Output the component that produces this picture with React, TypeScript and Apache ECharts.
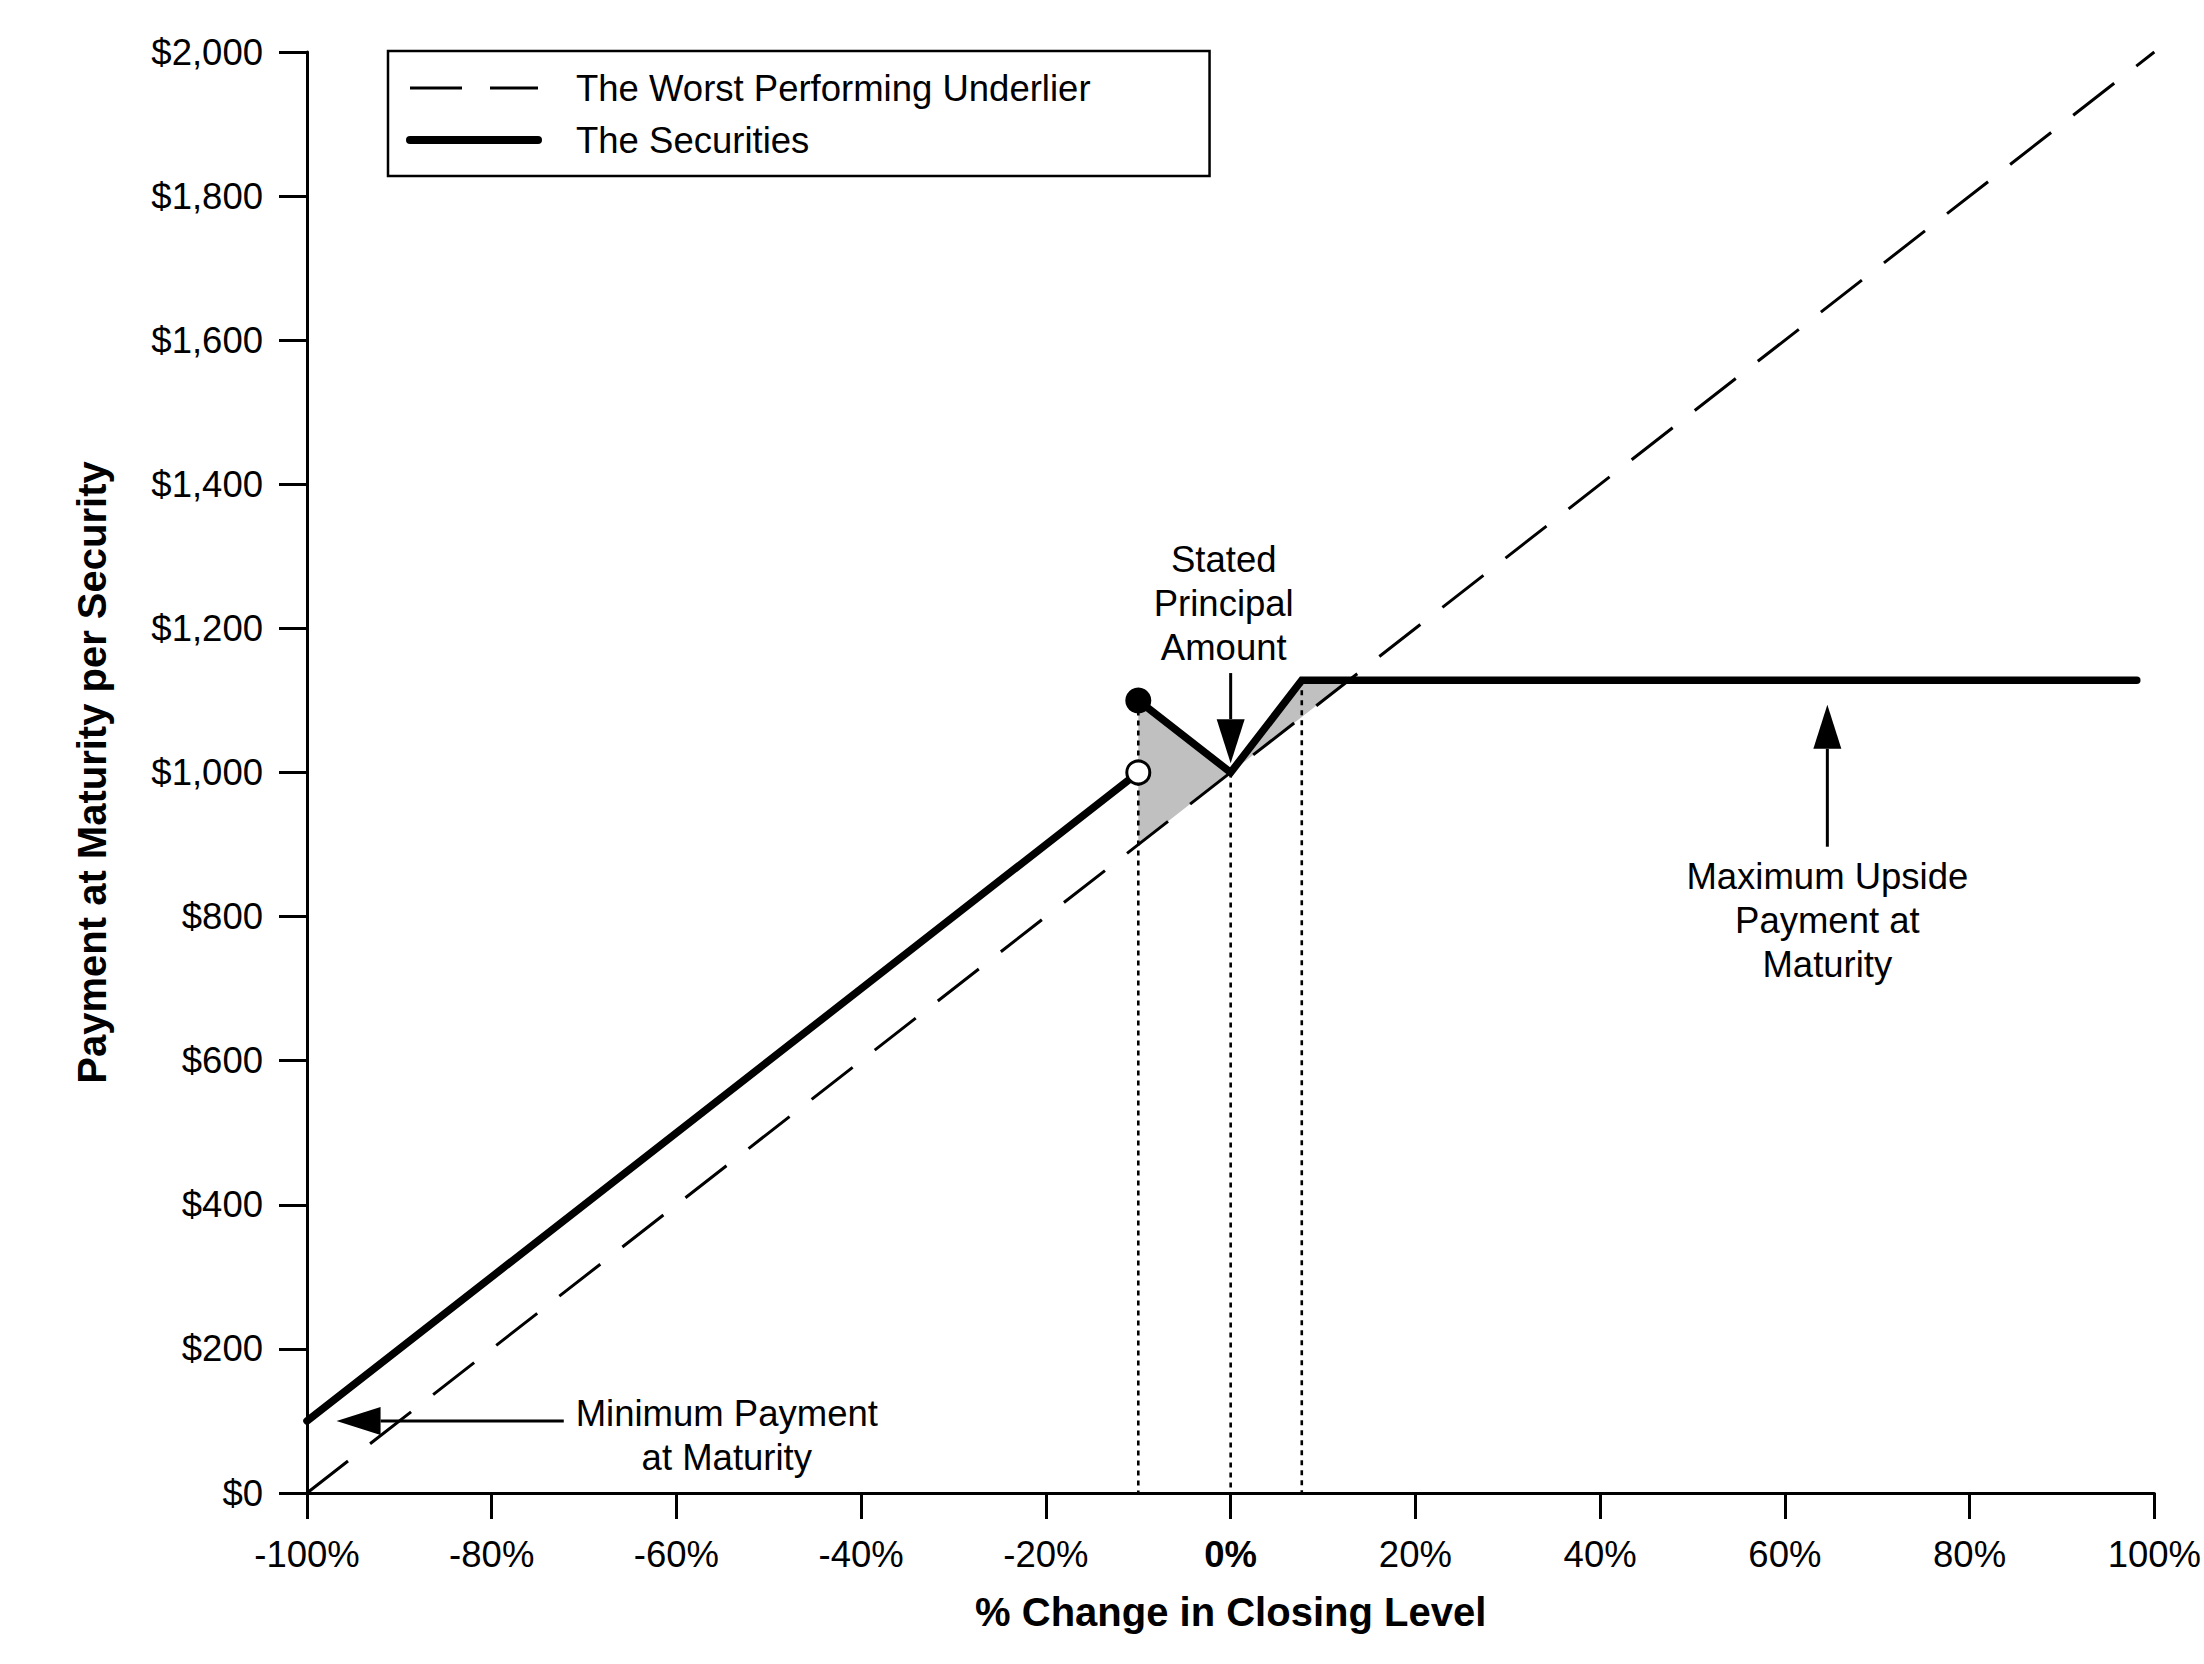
import React, { useEffect, useRef } from "react";
import * as echarts from "echarts";

const FONT = "'Liberation Sans', Arial, Helvetica, sans-serif";

// Data (x = % change in closing level, y = payment at maturity in $)
const underlierLine = [
  [-100, 0],
  [100, 2000],
];
const securitiesLow = [
  [-100, 100],
  [-10, 1000],
];
const securitiesHigh = [
  [-10, 1100],
  [0, 1000],
  [7.7, 1128],
  [98.1, 1128],
];
const shadeVertices = [
  [-10, 900],
  [-10, 1100],
  [0, 1000],
  [7.7, 1128],
  [12.8, 1128],
  [0, 1000],
];
const dropLines = [
  [-10, 1100],
  [0, 1000],
  [7.7, 1128],
];
const filledPoint = [[-10, 1100]];
const openPoint = [[-10, 1000]];
// arrows: [x from, y from, x to (tip), y to (tip)]
const arrows = [
  [0, 1138, 0, 1013],
  [-72.2, 100, -96.8, 100],
  [64.6, 897, 64.6, 1094],
];
const notePositions = [
  [-0.75, 1235],
  [-54.55, 80],
  [64.6, 795],
];
const noteTexts = [
  "Stated\nPrincipal\nAmount",
  "Minimum Payment\nat Maturity",
  "Maximum Upside\nPayment at\nMaturity",
];
const legendNames = ["The Worst Performing Underlier", "The Securities"];

export default function App() {
  const ref = useRef<HTMLDivElement>(null);

  useEffect(() => {
    document.body.style.margin = "0";
    document.documentElement.style.overflow = "hidden";
    if (!ref.current) return;
    const chart = echarts.init(ref.current, undefined, { renderer: "svg" });

    const option: any = {
      animation: false,
      backgroundColor: "#fff",
      textStyle: { fontFamily: FONT, color: "#000" },
      grid: { left: 307, right: 40, top: 52, bottom: 171, containLabel: false },
      legend: {
        data: [
          { name: legendNames[0], lineStyle: { color: "#000", width: 3, type: [52, 28] } },
          { name: legendNames[1], lineStyle: { color: "#000", width: 8, cap: "round" } },
        ],
        orient: "vertical",
        left: 388,
        top: 51,
        padding: [17, 119, 16, 18],
        itemGap: 12,
        itemWidth: 128,
        itemHeight: 14,
        backgroundColor: "#fff",
        borderColor: "#000",
        borderWidth: 2.5,
        borderRadius: 0,
        selectedMode: false,
        itemStyle: { color: "rgba(0,0,0,0)", borderWidth: 0 },
        textStyle: {
          fontFamily: FONT,
          fontSize: 36.5,
          color: "#000",
          lineHeight: 40,
          padding: [0, 0, 0, 33],
        },
      },
      xAxis: {
        type: "value",
        min: -100,
        max: 100,
        interval: 20,
        name: "% Change in Closing Level",
        nameLocation: "middle",
        nameGap: 99,
        nameTextStyle: { fontFamily: FONT, fontWeight: "bold", fontSize: 40, color: "#000" },
        axisLine: { show: true, onZero: false, lineStyle: { color: "#000", width: 3.2 } },
        axisTick: { show: true, length: 26, lineStyle: { color: "#000", width: 3 } },
        splitLine: { show: false },
        axisLabel: {
          margin: 43,
          fontFamily: FONT,
          fontSize: 36.5,
          color: "#000",
          formatter: (v: number) => (v === 0 ? "{b|0%}" : v + "%"),
          rich: { b: { fontFamily: FONT, fontSize: 36.5, fontWeight: "bold", color: "#000" } },
        },
      },
      yAxis: {
        type: "value",
        min: 0,
        max: 2000,
        interval: 200,
        name: "Payment at Maturity per Security",
        nameLocation: "middle",
        nameGap: 195,
        nameRotate: 90,
        nameTextStyle: { fontFamily: FONT, fontWeight: "bold", fontSize: 40, color: "#000" },
        axisLine: { show: true, onZero: false, lineStyle: { color: "#000", width: 3 } },
        axisTick: { show: true, length: 28, lineStyle: { color: "#000", width: 3 } },
        splitLine: { show: false },
        axisLabel: {
          margin: 44,
          fontFamily: FONT,
          fontSize: 36.5,
          color: "#000",
          formatter: (v: number) => "$" + v.toLocaleString("en-US"),
        },
      },
      series: [
        {
          type: "custom",
          name: "shade",
          silent: true,
          z: 1,
          data: shadeVertices,
          encode: { x: 0, y: 1 },
          renderItem: (params: any, api: any) => {
            if (params.dataIndex !== 0) return null;
            const pts = shadeVertices.map((v) => api.coord(v));
            return { type: "polygon", shape: { points: pts }, style: { fill: "#c0c0c0", stroke: "none" } };
          },
        },
        {
          type: "custom",
          name: "drop",
          silent: true,
          z: 2,
          data: dropLines,
          encode: { x: 0, y: 1 },
          renderItem: (params: any, api: any) => {
            const x = api.value(0);
            const top = api.coord([x, api.value(1)]);
            const bottom = api.coord([x, 0]);
            return {
              type: "line",
              shape: { x1: top[0], y1: top[1], x2: bottom[0], y2: bottom[1] },
              style: { stroke: "#000", lineWidth: 2.6, lineDash: [5, 5] },
            };
          },
        },
        {
          type: "line",
          name: legendNames[0],
          data: underlierLine,
          symbol: "none",
          silent: true,
          z: 3,
          lineStyle: { color: "#000", width: 3, type: [52, 28] },
          itemStyle: { color: "#000" },
        },
        {
          type: "line",
          name: legendNames[1],
          data: securitiesLow,
          symbol: "none",
          silent: true,
          z: 4,
          lineStyle: { color: "#000", width: 7.5, cap: "round" },
          itemStyle: { color: "#000" },
        },
        {
          type: "line",
          name: legendNames[1],
          data: securitiesHigh,
          symbol: "none",
          silent: true,
          z: 4,
          lineStyle: { color: "#000", width: 7.5, cap: "round", join: "miter" },
          itemStyle: { color: "#000" },
        },
        {
          type: "scatter",
          name: "filled",
          data: filledPoint,
          symbol: "circle",
          symbolSize: 26,
          silent: true,
          z: 6,
          itemStyle: { color: "#000", opacity: 1 },
        },
        {
          type: "scatter",
          name: "open",
          data: openPoint,
          symbol: "circle",
          symbolSize: 23,
          silent: true,
          z: 6,
          itemStyle: { color: "#fff", borderColor: "#000", borderWidth: 3, opacity: 1 },
        },
        {
          type: "custom",
          name: "arrows",
          silent: true,
          z: 5,
          data: arrows,
          encode: { x: [0, 2], y: [1, 3] },
          renderItem: (params: any, api: any) => {
            const p1 = api.coord([api.value(0), api.value(1)]);
            const p2 = api.coord([api.value(2), api.value(3)]);
            const dx = p2[0] - p1[0];
            const dy = p2[1] - p1[1];
            const len = Math.hypot(dx, dy) || 1;
            const ux = dx / len;
            const uy = dy / len;
            const headL = 44;
            const headW = 28;
            const bx = p2[0] - ux * headL;
            const by = p2[1] - uy * headL;
            const nx = -uy;
            const ny = ux;
            return {
              type: "group",
              children: [
                {
                  type: "line",
                  shape: { x1: p1[0], y1: p1[1], x2: bx, y2: by },
                  style: { stroke: "#000", lineWidth: 3 },
                },
                {
                  type: "polygon",
                  shape: {
                    points: [
                      [p2[0], p2[1]],
                      [bx + (nx * headW) / 2, by + (ny * headW) / 2],
                      [bx - (nx * headW) / 2, by - (ny * headW) / 2],
                    ],
                  },
                  style: { fill: "#000", stroke: "none" },
                },
              ],
            };
          },
        },
        {
          type: "custom",
          name: "notes",
          silent: true,
          z: 6,
          data: notePositions,
          encode: { x: 0, y: 1 },
          renderItem: (params: any, api: any) => {
            const p = api.coord([api.value(0), api.value(1)]);
            return {
              type: "text",
              x: p[0],
              y: p[1],
              style: {
                text: noteTexts[params.dataIndex],
                align: "center",
                verticalAlign: "middle",
                fontFamily: FONT,
                fontSize: 36.5,
                lineHeight: 44,
                fill: "#000",
              },
            };
          },
        },
      ],
    };

    chart.setOption(option);
    return () => chart.dispose();
  }, []);

  return <div ref={ref} style={{ width: 2204, height: 1664 }} />;
}
